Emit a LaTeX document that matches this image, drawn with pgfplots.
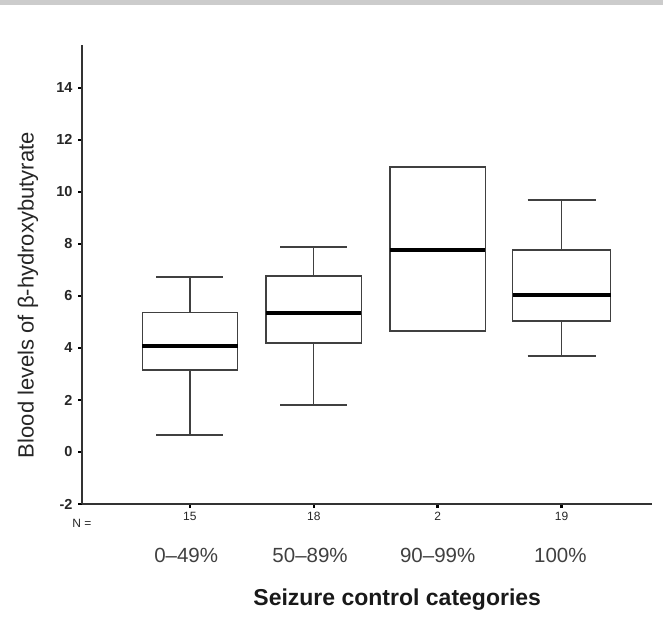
\documentclass[border=0pt]{standalone}
\usepackage{fontspec}
\setmainfont{Liberation Sans}
\usepackage{pgfplots}
\pgfplotsset{compat=1.18}
\usepgfplotslibrary{statistics}
\begin{document}
\begin{tikzpicture}[x=1pt,y=1pt]
\path[use as bounding box] (0,0) rectangle (663,616);
\fill[gray!40] (0,611) rectangle (663,616);
\begin{axis}[
  at={(82pt,112pt)}, anchor=south west,
  scale only axis, width=570pt, height=459pt,
  xmin=0.129, xmax=4.73, ymin=-2, ymax=15.65,
  axis x line*=bottom, axis y line*=left,
  axis line style={-, line width=1.3pt, black!80},
  ytick={-2,0,...,14},
  xtick={1,2,3,4},
  xticklabels={15,18,2,19},
  tick align=outside,
  major tick length=4pt,
  tick style={line width=2.4pt, black},
  /pgf/number format/assume math mode=true,
  yticklabel style={font=\bfseries\fontsize{14.5}{14.5}\selectfont, text=black!85, xshift=-2pt},
  xticklabel style={font=\fontsize{12}{12}\selectfont, text=black!85, yshift=-1pt},
  clip=false,
  ylabel={Blood levels of β-hydroxybutyrate},
  ylabel style={at={(axis description cs:-0.095,0.455)}, anchor=center, font=\fontsize{22}{24}\selectfont, text=black!85},
  xlabel={Seizure control categories},
  xlabel style={at={(axis description cs:0.553,-0.209)}, anchor=center, font=\bfseries\fontsize{23}{25}\selectfont, text=black!90},
  boxplot/draw direction=y,
  boxplot/every median/.style={black, line width=4pt},
]
\addplot[draw=black!75, line width=1.2pt, boxplot prepared={draw position=1, median=4.08, upper quartile=5.35, lower quartile=3.15, upper whisker=6.73, lower whisker=0.65, box extend=0.77, whisker extend=0.54}] coordinates {};
\addplot[draw=black!75, line width=1.2pt, boxplot prepared={draw position=2, median=5.35, upper quartile=6.77, lower quartile=4.19, upper whisker=7.88, lower whisker=1.81, box extend=0.77, whisker extend=0.54}] coordinates {};
\addplot[draw=black!75, line width=1.2pt, boxplot prepared={draw position=3, median=7.77, upper quartile=10.96, lower quartile=4.65, upper whisker=10.96, lower whisker=4.65, box extend=0.77, whisker extend=0.54}] coordinates {};
\addplot[draw=black!75, line width=1.2pt, boxplot prepared={draw position=4, median=6.04, upper quartile=7.77, lower quartile=5.04, upper whisker=9.69, lower whisker=3.69, box extend=0.79, whisker extend=0.55}] coordinates {};
\node[font=\fontsize{12}{12}\selectfont, text=black!85, yshift=-19pt] at (rel axis cs:0,0) {N =};
\node[font=\fontsize{20.5}{22}\selectfont, text=black!75, yshift=-51pt] at (axis cs:0.97,-2) {0–49\%};
\node[font=\fontsize{20.5}{22}\selectfont, text=black!75, yshift=-51pt] at (axis cs:1.97,-2) {50–89\%};
\node[font=\fontsize{20.5}{22}\selectfont, text=black!75, yshift=-51pt] at (axis cs:3.0,-2) {90–99\%};
\node[font=\fontsize{20.5}{22}\selectfont, text=black!75, yshift=-51pt] at (axis cs:3.99,-2) {100\%};
\end{axis}
\end{tikzpicture}
\end{document}
